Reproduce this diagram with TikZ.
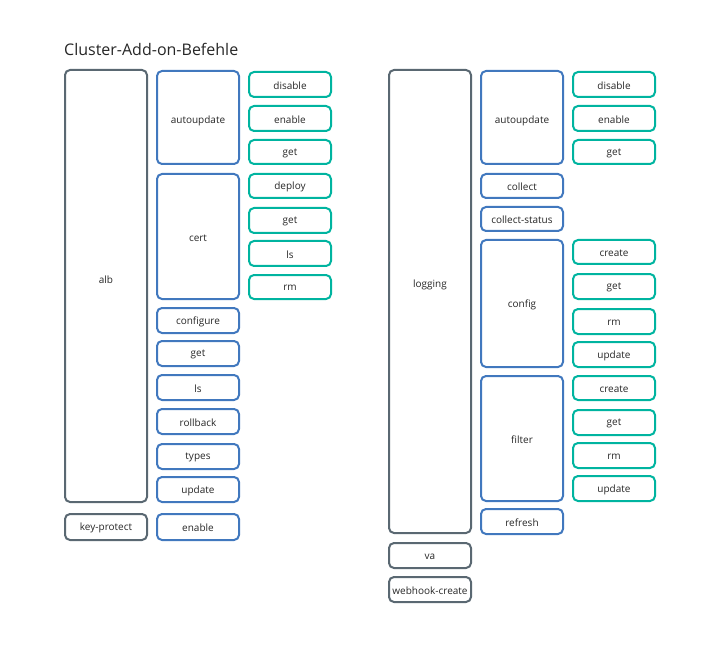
\documentclass[tikz,border=0pt]{standalone}
\usepackage{fontspec}
\setmainfont{Open Sans}
\definecolor{cgray}{HTML}{5A6872}
\definecolor{cblue}{HTML}{4178BE}
\definecolor{cteal}{HTML}{00B4A0}
\newcommand{\mybox}[8][-1]{\node[#2, minimum width={(#6-#4)*1pt}, minimum height={(#7-#5)*1pt}, label={[lbl, yshift=#1pt]center:#8}] (#3) at ({(#4+#6)/2},{(#5+#7)/2}) {};}
\begin{document}
\begin{tikzpicture}[x=1pt,y=-1pt,
  base/.style={draw, rounded corners=5pt, line width=2pt, inner sep=0pt},
  lbl/.style={inner sep=0pt, font=\fontsize{10}{12}\selectfont, text=black!85},
  gbox/.style={base, draw=cgray},
  bbox/.style={base, draw=cblue},
  tbox/.style={base, draw=cteal}]
\useasboundingbox (0,0) rectangle (725,652);
\node[anchor=west, font=\fontsize{16}{19}\selectfont, text=black!85, inner sep=0pt] (title) at (64,49) {Cluster-Add-on-Befehle};
% left group
\mybox[6]{gbox}{alb}{65}{70}{147}{502}{alb}
\mybox{gbox}{kp}{65}{514}{147}{540}{key-protect}
\mybox[-3]{bbox}{lau}{157}{71}{239}{164}{autoupdate}
\mybox[-1.5]{bbox}{lcert}{157}{174}{239}{299}{cert}
\mybox{bbox}{lconf}{157}{308}{239}{333}{configure}
\mybox{bbox}{lget}{157}{341}{239}{366}{get}
\mybox{bbox}{lls}{157}{375}{239}{400}{ls}
\mybox{bbox}{lrb}{157}{409}{239}{434}{rollback}
\mybox{bbox}{ltypes}{157}{444}{239}{469}{types}
\mybox{bbox}{lupd}{157}{477}{239}{502}{update}
\mybox{bbox}{len}{157}{514}{239}{540}{enable}
\mybox{tbox}{ldis}{249}{72}{331}{97}{disable}
\mybox{tbox}{lena}{249}{106}{331}{131}{enable}
\mybox{tbox}{lget2}{249}{140}{331}{164}{get}
\mybox{tbox}{ldep}{249}{174}{331}{198}{deploy}
\mybox{tbox}{lget3}{249}{208}{331}{233}{get}
\mybox{tbox}{lls2}{249}{241}{331}{266}{ls}
\mybox{tbox}{lrm}{249}{275}{331}{299}{rm}
% right group
\mybox[17]{gbox}{logging}{389}{70}{471}{533}{logging}
\mybox{gbox}{va}{389}{543}{471}{568}{va}
\mybox{gbox}{wh}{389}{577}{471}{602}{webhook-create}
\mybox[-3]{bbox}{rau}{481}{71}{563}{164}{autoupdate}
\mybox{bbox}{rcol}{481}{174}{563}{198}{collect}
\mybox{bbox}{rcs}{481}{207}{563}{231}{collect-status}
\mybox[-1.5]{bbox}{rconf}{481}{240}{563}{367}{config}
\mybox{bbox}{rfil}{481}{376}{563}{501}{filter}
\mybox{bbox}{rref}{481}{509}{563}{534}{refresh}
\mybox{tbox}{rdis}{573}{72}{655}{97}{disable}
\mybox{tbox}{rena}{573}{106}{655}{131}{enable}
\mybox{tbox}{rget}{573}{140}{655}{164}{get}
\mybox{tbox}{rcc}{573}{240}{655}{264}{create}
\mybox{tbox}{rcg}{573}{274}{655}{299}{get}
\mybox{tbox}{rcr}{573}{309}{655}{334}{rm}
\mybox{tbox}{rcu}{573}{342}{655}{367}{update}
\mybox{tbox}{rfc}{573}{376}{655}{400}{create}
\mybox{tbox}{rfg}{573}{410}{655}{435}{get}
\mybox{tbox}{rfr}{573}{443}{655}{468}{rm}
\mybox{tbox}{rfu}{573}{476}{655}{501}{update}
\end{tikzpicture}
\end{document}
